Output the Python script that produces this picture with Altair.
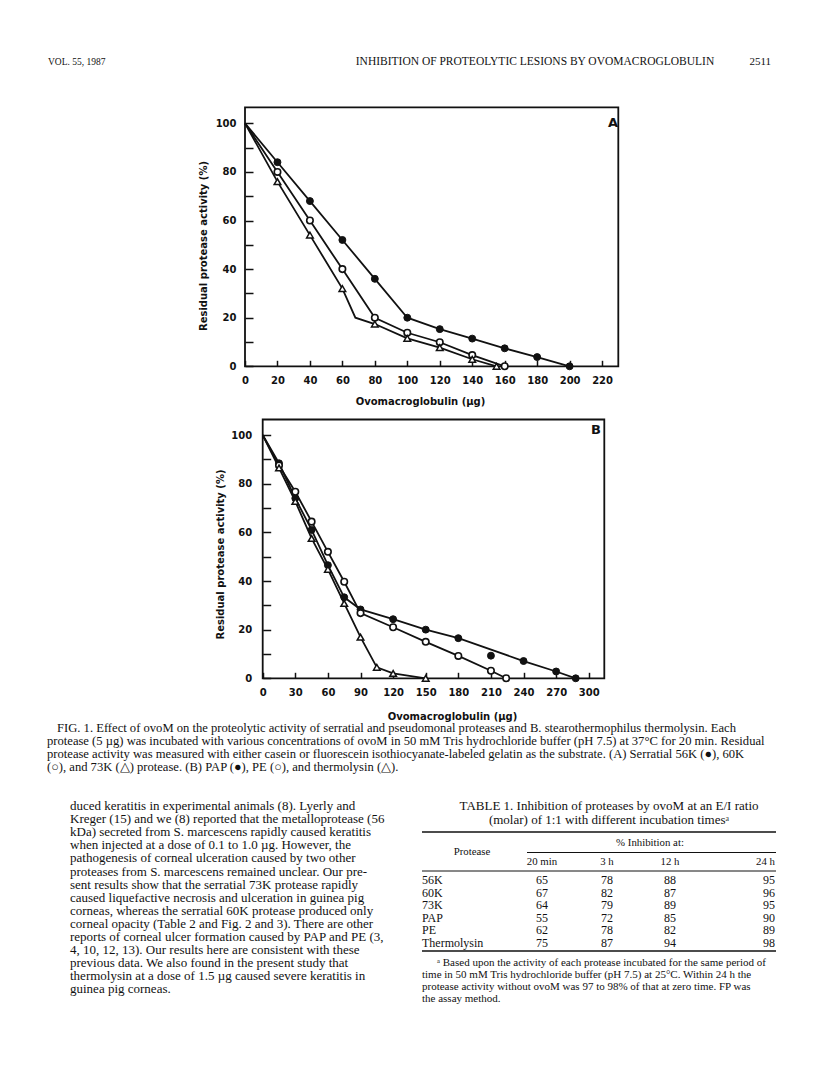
import altair as alt
import pandas as pd

# ---------------- data: panel A (serratial proteases) ----------------
A_56K_X = [0, 20, 40, 60, 80, 100, 120, 140, 160, 180, 200]
A_56K_Y = [100, 84, 68, 52, 36, 20, 15.3, 11.4, 7.4, 3.8, 0]
A_60K_X = [0, 20, 40, 60, 80, 100, 120, 140, 160]
A_60K_Y = [100, 80, 60, 40, 20, 13.8, 9.9, 4.6, 0]
A_73K_X = [0, 20, 40, 60, 68, 80, 100, 120, 140, 155]
A_73K_Y = [100, 76, 54, 32, 20, 17.4, 11.5, 7.7, 2.9, 0]
A_73K_MARK = [0, 1, 1, 1, 0, 1, 1, 1, 1, 1]

# ---------------- data: panel B (PAP, PE, thermolysin) ----------------
B_PAP_X = [0, 15, 30, 45, 60, 75, 90, 120, 150, 180, 210, 240, 270, 288]
B_PAP_Y = [100, 88.4, 74, 61, 46.5, 33.3, 28.3, 24.3, 20, 16.5, 9.3, 7.1, 2.8, 0]
B_PAP_LINE = [1, 1, 1, 1, 1, 1, 1, 1, 1, 1, 0, 1, 1, 1]
B_PE_X = [0, 15, 30, 45, 60, 75, 90, 120, 150, 180, 210, 224]
B_PE_Y = [100, 87.5, 76.7, 64.4, 52, 39.7, 26.8, 21, 15, 9.2, 3.1, 0]
B_TH_X = [0, 15, 30, 45, 60, 75, 90, 105, 120, 150]
B_TH_Y = [100, 86.5, 72.7, 57.5, 44.8, 30.8, 16.9, 4.5, 2, 0]

# ---------------- ticks ----------------
A_XTICKS = [0, 20, 40, 60, 80, 100, 120, 140, 160, 180, 200, 220]
B_XTICKS = [0, 30, 60, 90, 120, 150, 180, 210, 240, 270, 300]
Y_TICKS = [0, 10, 20, 30, 40, 50, 60, 70, 80, 90, 100]
Y_LABELS = [0, 20, 40, 60, 80, 100]

# ---------------- page text ----------------
HEAD_LEFT = ["VOL. 55, 1987"]
HEAD_MID = ["INHIBITION OF PROTEOLYTIC LESIONS BY OVOMACROGLOBULIN"]
HEAD_RIGHT = ["2511"]

CAPTION_FIRST = ["FIG. 1. Effect of ovoM on the proteolytic activity of serratial and pseudomonal proteases and B. stearothermophilus thermolysin. Each"]
CAPTION_REST = [
    "protease (5 \u00b5g) was incubated with various concentrations of ovoM in 50 mM Tris hydrochloride buffer (pH 7.5) at 37\u00b0C for 20 min. Residual",
    "protease activity was measured with either casein or fluorescein isothiocyanate-labeled gelatin as the substrate. (A) Serratial 56K (\u25cf), 60K",
    "(\u25cb), and 73K (\u25b3) protease. (B) PAP (\u25cf), PE (\u25cb), and thermolysin (\u25b3).",
]

BODY = [
    "duced keratitis in experimental animals (8). Lyerly and",
    "Kreger (15) and we (8) reported that the metalloprotease (56",
    "kDa) secreted from S. marcescens rapidly caused keratitis",
    "when injected at a dose of 0.1 to 1.0 \u00b5g. However, the",
    "pathogenesis of corneal ulceration caused by two other",
    "proteases from S. marcescens remained unclear. Our pre-",
    "sent results show that the serratial 73K protease rapidly",
    "caused liquefactive necrosis and ulceration in guinea pig",
    "corneas, whereas the serratial 60K protease produced only",
    "corneal opacity (Table 2 and Fig. 2 and 3). There are other",
    "reports of corneal ulcer formation caused by PAP and PE (3,",
    "4, 10, 12, 13). Our results here are consistent with these",
    "previous data. We also found in the present study that",
    "thermolysin at a dose of 1.5 \u00b5g caused severe keratitis in",
    "guinea pig corneas.",
]

TABLE_TITLE = [
    "TABLE 1. Inhibition of proteases by ovoM at an E/I ratio",
    "(molar) of 1:1 with different incubation times\u1d43",
]
TABLE_SPAN = ["% Inhibition at:"]
TABLE_STUB = ["Protease"]
TABLE_COLS = ["20 min", "3 h", "12 h", "24 h"]
PROTEASES = ["56K", "60K", "73K", "PAP", "PE", "Thermolysin"]
INH_20MIN = [65, 67, 64, 55, 62, 75]
INH_3H = [78, 82, 79, 72, 78, 87]
INH_12H = [88, 87, 89, 85, 82, 94]
INH_24H = [95, 96, 95, 90, 89, 98]
FOOT_FIRST = ["\u1d43 Based upon the activity of each protease incubated for the same period of"]
FOOT_REST = [
    "time in 50 mM Tris hydrochloride buffer (pH 7.5) at 25\u00b0C. Within 24 h the",
    "protease activity without ovoM was 97 to 98% of that at zero time. FP was",
    "the assay method.",
]

INK = "#111111"
SANS = "DejaVu Sans"
SERIF = "Liberation Serif"
W, H = 798, 1060
M = 8  # page margin: page coordinate -> chart coordinate


def series(xs, ys, style, mark=None, line=None):
    n = len(xs)
    if mark is None:
        mark = [0] + [1] * (n - 1)
    if line is None:
        line = [1] * n
    return pd.DataFrame({"x": xs, "y": ys, "style": style, "mark": mark, "line": line})


def panel(df, xdom, xl, xr, ydom, yb, yt, xticks, ytitle, xtitle,
          ytitle_xy, xtitle_xy, letter, letter_xy, ylab_pad, xlab_pad):
    xs = alt.Scale(domain=xdom, range=[xl - M, xr - M], nice=False, zero=False)
    ys = alt.Scale(domain=ydom, range=[yb - M, yt - M], nice=False, zero=False)
    X = alt.X("x:Q", scale=xs, axis=None)
    Y = alt.Y("y:Q", scale=ys, axis=None)

    frame = alt.Chart(pd.DataFrame({"x": [xdom[0]], "x2": [xdom[1]], "y": [ydom[0]], "y2": [ydom[1]]})).mark_rect(
        fillOpacity=0, stroke=INK, strokeWidth=1.8
    ).encode(x=X, x2="x2:Q", y=Y, y2="y2:Q")
    base = alt.Chart(df)
    lines = base.transform_filter("datum.line == 1").mark_line(color=INK, strokeWidth=1.8).encode(
        x=X, y=Y, detail="style:N", order="x:Q")
    filled = base.transform_filter("datum.mark == 1 && datum.style == 'filled'").mark_point(
        shape="circle", filled=True, fill=INK, stroke=INK, strokeWidth=1, size=48, opacity=1).encode(x=X, y=Y)
    opened = base.transform_filter("datum.mark == 1 && datum.style == 'open'").mark_point(
        shape="circle", filled=True, fill="white", stroke=INK, strokeWidth=1.6, size=42, opacity=1).encode(x=X, y=Y)
    tri = base.transform_filter("datum.mark == 1 && datum.style == 'tri'").mark_point(
        shape="triangle-up", filled=True, fill="white", stroke=INK, strokeWidth=1.5, size=44, opacity=1).encode(x=X, y=Y)
    data_layer = alt.layer(frame, lines, filled, opened, tri)

    # label axes (left / bottom)
    ylab = alt.Chart(pd.DataFrame({"y": Y_LABELS})).mark_point(opacity=0).encode(
        y=alt.Y("y:Q", scale=ys, axis=alt.Axis(
            orient="left", offset=-(xl - M), values=Y_LABELS, ticks=False, domain=False, grid=False,
            labelPadding=ylab_pad, labelFont=SANS, labelFontWeight="bold", labelFontSize=10, labelColor=INK,
            title=ytitle, titleFont=SANS, titleFontWeight="bold", titleFontSize=10, titleColor=INK,
            titleX=ytitle_xy[0] - xl, titleY=ytitle_xy[1] - M, titleBaseline="middle", titleAngle=270)))
    xlab = alt.Chart(pd.DataFrame({"x": xticks})).mark_point(opacity=0).encode(
        x=alt.X("x:Q", scale=xs, axis=alt.Axis(
            orient="bottom", offset=(yb - M) - H, values=xticks, ticks=False, domain=False, grid=False,
            labelPadding=xlab_pad, labelFont=SANS, labelFontWeight="bold", labelFontSize=10, labelColor=INK,
            labelFlush=False, labelOverlap=False,
            title=xtitle, titleFont=SANS, titleFontWeight="bold", titleFontSize=10, titleColor=INK,
            titleX=xtitle_xy[0] - M, titleY=xtitle_xy[1] - yb, titleBaseline="middle")))
    # inward ticks
    ytk = alt.Chart(pd.DataFrame({"y": Y_TICKS})).mark_point(opacity=0).encode(
        y=alt.Y("y:Q", scale=ys, axis=alt.Axis(
            orient="right", offset=(xl - M) - W, values=Y_TICKS, labels=False, domain=False, grid=False,
            ticks=True, tickSize=8, tickWidth=1.5, tickColor=INK, title="")))
    xtk = alt.Chart(pd.DataFrame({"x": xticks})).mark_point(opacity=0).encode(
        x=alt.X("x:Q", scale=xs, axis=alt.Axis(
            orient="top", offset=-(yb - M), values=xticks, labels=False, domain=False, grid=False,
            ticks=True, tickSize=6, tickWidth=1.5, tickColor=INK, title="")))
    let = alt.Chart(pd.DataFrame({"t": [letter]})).mark_text(
        font=SANS, fontWeight="bold", fontSize=13, color=INK, align="center", baseline="middle").encode(
        x=alt.value(letter_xy[0] - M), y=alt.value(letter_xy[1] - M), text="t:N")
    return [data_layer, ylab, xlab, ytk, xtk, let]


def text_lines(lines, x, y0, dy, size, align="left", font=SERIF, weight="normal"):
    n = len(lines)
    span = max(n - 1, 1)
    df = pd.DataFrame({"t": lines, "i": list(range(n))})
    ys = alt.Scale(domain=[0, span], range=[y0 - M, y0 - M + dy * span], nice=False, zero=False)
    return alt.Chart(df).mark_text(align=align, baseline="middle", font=font, fontSize=size,
                                   fontWeight=weight, color=INK).encode(
        x=alt.value(x - M), y=alt.Y("i:Q", scale=ys, axis=None), text="t:N")


def hrule(x1, x2, y, w):
    return alt.Chart(pd.DataFrame({"k": [0]})).mark_rule(color=INK, strokeWidth=w).encode(
        x=alt.value(x1 - M), x2=alt.value(x2 - M), y=alt.value(y - M))


dfA = pd.concat([
    series(A_56K_X, A_56K_Y, "filled"),
    series(A_60K_X, A_60K_Y, "open"),
    series(A_73K_X, A_73K_Y, "tri", mark=A_73K_MARK),
], ignore_index=True)
dfB = pd.concat([
    series(B_PAP_X, B_PAP_Y, "filled", line=B_PAP_LINE),
    series(B_PE_X, B_PE_Y, "open"),
    series(B_TH_X, B_TH_Y, "tri"),
], ignore_index=True)

layers = []
layers += panel(dfA, [0, 230], 245, 618.3, [0, 106.6], 366.3, 107.3, A_XTICKS,
                "Residual protease activity (%)", "Ovomacroglobulin  (\u00b5g)",
                (203.3, 245.5), (420, 401.7), "A", (613, 122.5), 9, 9)
layers += panel(dfB, [0, 314.3], 262.7, 604.3, [0, 106.4], 678.3, 419.5, B_XTICKS,
                "Residual protease activity  (%)", "Ovomacroglobulin (\u00b5g)",
                (220.7, 554), (452, 716), "B", (596, 430), 11, 9)

# running head
layers.append(text_lines(HEAD_LEFT, 48, 62, 12, 9.5))
layers.append(text_lines(HEAD_MID, 535, 62, 12, 11.5, align="center"))
layers.append(text_lines(HEAD_RIGHT, 771, 62, 12, 11, align="right"))

# caption
layers.append(text_lines(CAPTION_FIRST, 57, 727.5, 13.3, 12.6))
layers.append(text_lines(CAPTION_REST, 47, 740.8, 13.3, 12.6))

# body column
layers.append(text_lines(BODY, 70, 806, 13.1, 13))

# table
layers.append(text_lines(TABLE_TITLE, 609, 806, 13.5, 13, align="center"))
layers.append(hrule(422, 776, 832, 1.4))
layers.append(text_lines(TABLE_SPAN, 650, 843, 12, 10.8, align="center"))
layers.append(text_lines(TABLE_STUB, 472, 851.5, 12, 10.8, align="center"))
layers.append(hrule(527, 776, 852.5, 1))
layers.append(text_lines(TABLE_COLS[:1], 542, 862, 12, 10.8, align="center"))
layers.append(text_lines(TABLE_COLS[1:2], 607, 862, 12, 10.8, align="center"))
layers.append(text_lines(TABLE_COLS[2:3], 670, 862, 12, 10.8, align="center"))
layers.append(text_lines(TABLE_COLS[3:], 775, 862, 12, 10.8, align="right"))
layers.append(hrule(422, 776, 871, 1))
layers.append(text_lines(PROTEASES, 422, 880, 12.6, 12))
layers.append(text_lines([str(v) for v in INH_20MIN], 542, 880, 12.6, 12, align="center"))
layers.append(text_lines([str(v) for v in INH_3H], 607, 880, 12.6, 12, align="center"))
layers.append(text_lines([str(v) for v in INH_12H], 670, 880, 12.6, 12, align="center"))
layers.append(text_lines([str(v) for v in INH_24H], 775, 880, 12.6, 12, align="right"))
layers.append(hrule(422, 776, 951, 1.4))
layers.append(text_lines(FOOT_FIRST, 437, 962.5, 12.3, 11))
layers.append(text_lines(FOOT_REST, 422, 974.8, 12.3, 11))

chart = alt.layer(*layers).resolve_scale(x="independent", y="independent").properties(
    width=W, height=H, padding=0, background="white",
    autosize=alt.AutoSizeParams(type="none"),
).configure_view(strokeWidth=0)

chart.save("out.html", embed_options={"renderer": "svg", "actions": False})
